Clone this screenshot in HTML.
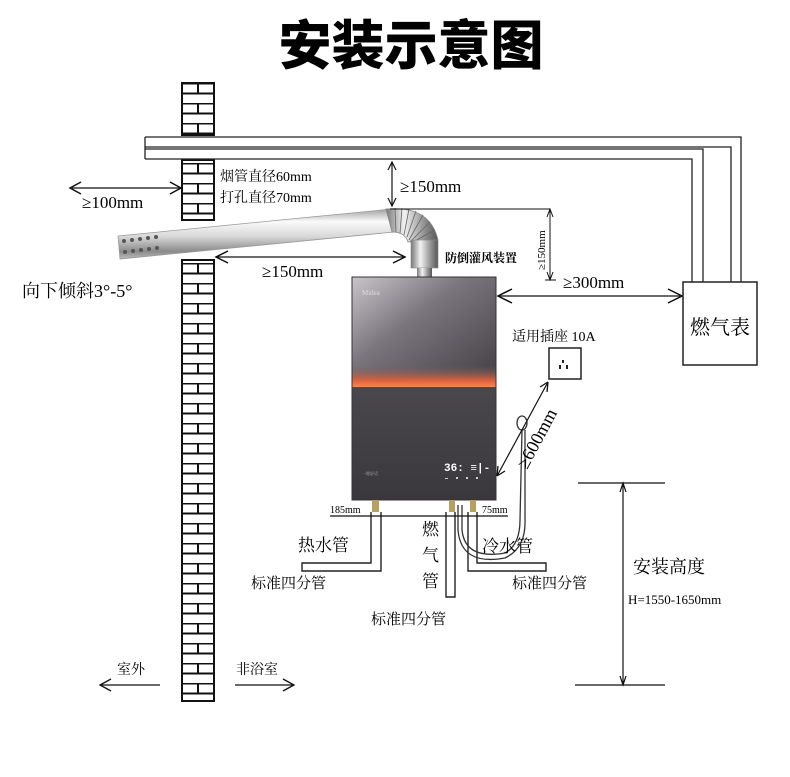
<!DOCTYPE html>
<html><head><meta charset="utf-8"><style>
html,body{margin:0;padding:0;background:#fff;}
svg{display:block;font-family:"Liberation Serif","Noto Serif CJK SC","Noto Sans CJK SC",serif;}
</style></head><body>
<svg width="790" height="777" viewBox="0 0 790 777" xmlns="http://www.w3.org/2000/svg">
<defs>
<pattern id="brick" x="182" y="83" width="32" height="20" patternUnits="userSpaceOnUse">
<rect width="32" height="20" fill="#fff"/>
<line x1="0" y1="0.5" x2="32" y2="0.5" stroke="#111" stroke-width="2"/>
<line x1="0" y1="10.5" x2="32" y2="10.5" stroke="#111" stroke-width="2"/>
<line x1="16" y1="0" x2="16" y2="10" stroke="#111" stroke-width="2"/>
</pattern>
<linearGradient id="pipe" x1="0" y1="0" x2="0" y2="1">
<stop offset="0" stop-color="#a0a0a0"/><stop offset="0.25" stop-color="#fafafa"/><stop offset="0.55" stop-color="#d8d8d8"/><stop offset="0.85" stop-color="#8a8a8a"/><stop offset="1" stop-color="#bdbdbd"/>
</linearGradient>
<linearGradient id="vpipe" x1="0" y1="0" x2="1" y2="0">
<stop offset="0" stop-color="#777"/><stop offset="0.35" stop-color="#f2f2f2"/><stop offset="0.7" stop-color="#999"/><stop offset="1" stop-color="#555"/>
</linearGradient>
<linearGradient id="heat" x1="0" y1="0" x2="1" y2="1">
<stop offset="0" stop-color="#c8c5ca"/><stop offset="0.4" stop-color="#7a757d"/><stop offset="1" stop-color="#403d42"/>
</linearGradient>
<linearGradient id="heat2" x1="0" y1="0" x2="0" y2="1">
<stop offset="0" stop-color="#4a474d"/><stop offset="1" stop-color="#3a383c"/>
</linearGradient>
<linearGradient id="orange" x1="0" y1="0" x2="0" y2="1">
<stop offset="0" stop-color="#6a5d62" stop-opacity="0"/><stop offset="0.7" stop-color="#e0603a"/><stop offset="1" stop-color="#f08a5a"/>
</linearGradient>
</defs>

<text x="411" y="64" text-anchor="middle" font-family="'Noto Sans CJK SC',sans-serif" font-weight="900" font-size="53" fill="#000">安装示意图</text>

<!-- wall -->
<rect x="182" y="83" width="32" height="52" fill="url(#brick)" stroke="#111" stroke-width="2"/>
<rect x="182" y="160" width="32" height="60" fill="url(#brick)" stroke="#111" stroke-width="2"/>
<rect x="182" y="260" width="32" height="441" fill="url(#brick)" stroke="#111" stroke-width="2"/>

<!-- gas pipes -->
<path d="M145,137 H741 V282" fill="none" stroke="#222" stroke-width="1.3"/>
<path d="M145,147 H731 V282" fill="none" stroke="#222" stroke-width="1.3"/>
<path d="M145,149 H703 V282" fill="none" stroke="#222" stroke-width="1.3"/>
<path d="M145,159 H692 V282" fill="none" stroke="#222" stroke-width="1.3"/>
<line x1="145" y1="137" x2="145" y2="159" stroke="#222" stroke-width="1.3"/>

<rect x="683" y="282" width="74" height="83" fill="#fff" stroke="#222" stroke-width="1.5"/>
<text x="720" y="334" text-anchor="middle" font-size="20">燃气表</text>

<!-- flue pipe -->
<path d="M118,236 L392,209 L394,232 L120,259 Z" fill="url(#pipe)" stroke="#999" stroke-width="0.8"/>
<g fill="#555">
<circle cx="124" cy="241" r="2"/><circle cx="132" cy="240" r="2"/><circle cx="140" cy="239" r="2"/><circle cx="148" cy="238" r="2"/><circle cx="156" cy="237" r="2"/>
<circle cx="125" cy="252" r="2"/><circle cx="133" cy="251" r="2"/><circle cx="141" cy="250" r="2"/><circle cx="149" cy="249" r="2"/><circle cx="157" cy="248" r="2"/>
</g>
<path d="M386,209 Q430,205 438,240 L408,242 Q405,232 392,232 Z" fill="url(#vpipe)" stroke="#888" stroke-width="0.8"/>
<g stroke="#666" stroke-width="0.8">
<line x1="395" y1="208" x2="396" y2="232"/><line x1="402" y1="208" x2="400" y2="233"/><line x1="409" y1="209" x2="404" y2="235"/><line x1="416" y1="211" x2="407" y2="237"/><line x1="423" y1="215" x2="409" y2="240"/><line x1="430" y1="222" x2="410" y2="242"/><line x1="435" y1="230" x2="411" y2="243"/>
</g>
<rect x="411" y="240" width="27" height="28" fill="url(#vpipe)" stroke="#888" stroke-width="0.6"/>
<rect x="417" y="268" width="15" height="9" fill="url(#vpipe)"/>
<text x="445" y="262" font-size="12" font-weight="bold">防倒灌风装置</text>

<!-- heater -->
<rect x="352" y="277" width="144" height="110" fill="url(#heat)"/>
<rect x="352" y="365" width="144" height="22" fill="url(#orange)"/>
<rect x="352" y="387" width="144" height="113" fill="url(#heat2)"/>
<rect x="352" y="277" width="144" height="223" fill="none" stroke="#333" stroke-width="1"/>
<text x="362" y="295" font-size="7" fill="#ddd">Midea</text>
<text x="444" y="471" font-size="11" fill="#fff" font-family="'Liberation Mono',monospace" font-weight="bold">36: ≡|-</text>
<g fill="#ccc"><rect x="445" y="478" width="3" height="1"/><rect x="456" y="477" width="2" height="2"/><rect x="466" y="477" width="2" height="2"/><rect x="476" y="477" width="2" height="2"/></g>
<text x="362" y="475" font-size="4" fill="#aaa">一键舒适</text>

<!-- fittings -->
<g fill="#b8a060"><rect x="372" y="500" width="7" height="12"/><rect x="449" y="500" width="6" height="12"/><rect x="470" y="500" width="6" height="12"/></g>

<!-- pipes below -->
<path d="M371,512 V563 H302 V571 H381 V512" fill="none" stroke="#222" stroke-width="1.4"/>
<path d="M446,512 V597 H455 V512" fill="none" stroke="#222" stroke-width="1.4"/>
<path d="M468,512 V571 H546 V563 H477 V512" fill="none" stroke="#222" stroke-width="1.4"/>
<path d="M462,505 V530 Q465,560 505,553 Q520,545 520,520 L522,430" fill="none" stroke="#333" stroke-width="1.3"/>
<path d="M458,505 V530 Q461,566 505,558 Q526,548 525,520 L525,430" fill="none" stroke="#333" stroke-width="1.3"/>
<ellipse cx="522" cy="423" rx="5" ry="7" fill="#fff" stroke="#333" stroke-width="1.3"/>
<line x1="330" y1="516" x2="508" y2="516" stroke="#111" stroke-width="1.3"/>
<text x="330" y="513" font-size="10">185mm</text>
<text x="482" y="513" font-size="10">75mm</text>

<!-- socket -->
<text x="512" y="341" font-size="14">适用插座  10A</text>
<rect x="549" y="348" width="32" height="31" fill="#fff" stroke="#222" stroke-width="1.5"/>
<g fill="#222"><rect x="562" y="360" width="2" height="3"/><rect x="559" y="365" width="2" height="4"/><rect x="566" y="365" width="2" height="4"/></g>

<!-- dimensions -->
<line x1="72" y1="188" x2="180" y2="188" stroke="#111" stroke-width="1.2"/>
<path d="M81,182 L70,188 L81,194 M170,182 L181,188 L170,194" fill="none" stroke="#111" stroke-width="1.5"/>
<text x="82" y="208" font-size="17">≥100mm</text>
<text x="220" y="181" font-size="14">烟管直径60mm</text>
<text x="220" y="202" font-size="14">打孔直径70mm</text>
<line x1="392" y1="162" x2="392" y2="206" stroke="#111" stroke-width="1.2"/>
<path d="M388,170 L392,162 L396,170 M388,198 L392,206 L396,198" fill="none" stroke="#111" stroke-width="1.2"/>
<text x="400" y="192" font-size="17">≥150mm</text>
<line x1="390" y1="209" x2="550" y2="209" stroke="#111" stroke-width="1"/>
<line x1="550" y1="209" x2="550" y2="280" stroke="#111" stroke-width="1"/>
<line x1="545" y1="280" x2="556" y2="280" stroke="#111" stroke-width="1"/>
<path d="M547,217 L550,209 L553,217 M547,272 L550,280 L553,272" fill="none" stroke="#111" stroke-width="1"/>
<text x="0" y="0" font-size="11" transform="translate(545,270) rotate(-90)">≥150mm</text>
<line x1="216" y1="257" x2="405" y2="257" stroke="#111" stroke-width="1.2"/>
<path d="M228,251 L216,257 L228,263 M393,251 L405,257 L393,263" fill="none" stroke="#111" stroke-width="1.5"/>
<text x="262" y="277" font-size="17">≥150mm</text>
<text x="22" y="297" font-size="18">向下倾斜3°-5°</text>
<line x1="498" y1="296" x2="682" y2="296" stroke="#111" stroke-width="1.2"/>
<path d="M512,289 L498,296 L512,303 M668,289 L682,296 L668,303" fill="none" stroke="#111" stroke-width="1.5"/>
<text x="563" y="288" font-size="17">≥300mm</text>
<line x1="497" y1="476" x2="548" y2="382" stroke="#111" stroke-width="1.2"/>
<path d="M497,476 L498,466 M497,476 L505,471 M548,382 L547,392 M548,382 L540,387" fill="none" stroke="#111" stroke-width="1.3"/>
<text x="0" y="0" font-size="18" transform="translate(527,470) rotate(-62)">≥600mm</text>

<!-- labels -->
<text x="298" y="551" font-size="17">热水管</text>
<text x="251" y="588" font-size="15">标准四分管</text>
<text x="422" y="535" font-size="17">燃</text>
<text x="422" y="561" font-size="17">气</text>
<text x="422" y="587" font-size="17">管</text>
<text x="371" y="624" font-size="15">标准四分管</text>
<text x="482" y="552" font-size="17">冷水管</text>
<text x="512" y="588" font-size="15">标准四分管</text>

<!-- install height -->
<line x1="578" y1="483" x2="665" y2="483" stroke="#111" stroke-width="1.2"/>
<line x1="575" y1="685" x2="665" y2="685" stroke="#111" stroke-width="1.2"/>
<line x1="623" y1="483" x2="623" y2="685" stroke="#111" stroke-width="1.2"/>
<path d="M620,492 L623,483 L626,492 M620,676 L623,685 L626,676" fill="none" stroke="#111" stroke-width="1.2"/>
<text x="633" y="573" font-size="18">安装高度</text>
<text x="628" y="604" font-size="13">H=1550-1650mm</text>

<!-- bottom -->
<text x="117" y="674" font-size="14">室外</text>
<line x1="100" y1="685" x2="160" y2="685" stroke="#111" stroke-width="1.2"/>
<path d="M111,679 L100,685 L111,691" fill="none" stroke="#111" stroke-width="1.3"/>
<text x="236" y="674" font-size="14">非浴室</text>
<line x1="235" y1="685" x2="294" y2="685" stroke="#111" stroke-width="1.2"/>
<path d="M283,679 L294,685 L283,691" fill="none" stroke="#111" stroke-width="1.3"/>
</svg>
</body></html>
